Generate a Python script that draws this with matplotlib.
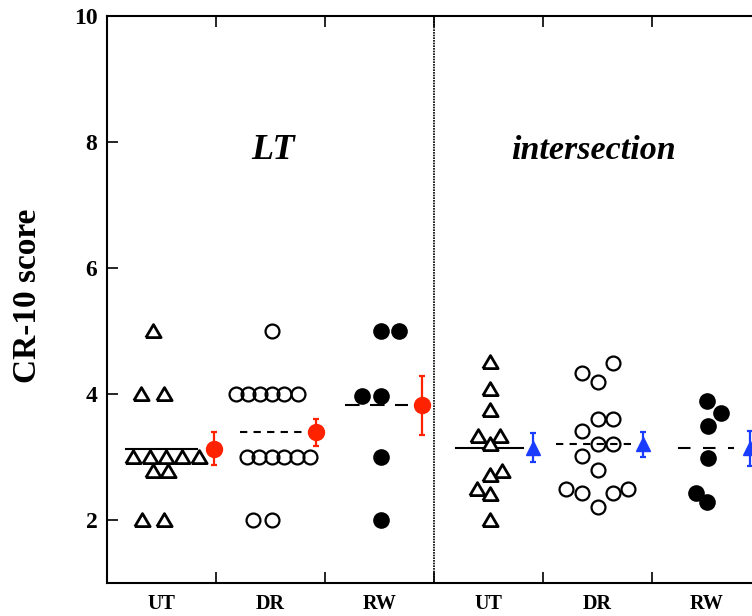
import numpy as np
import matplotlib as mpl
mpl.use("Agg")
import matplotlib.pyplot as plt

mpl.rcParams["font.family"] = "Liberation Serif"
mpl.rcParams["font.weight"] = "bold"

# category labels (two panels)
categories = ["UT", "DR", "RW", "UT", "DR", "RW"]
panels = ["LT", "intersection"]

# individual scores
lt_ut = [5, 4, 4, 3, 3, 3, 3, 3, 2.78, 2.78, 2, 2]
lt_dr = [5, 4, 4, 4, 4, 4, 4, 3, 3, 3, 3, 3, 3, 2, 2]
lt_rw = [5, 5, 3.97, 3.97, 3, 2]
in_ut = [4.51, 4.08, 3.74, 3.33, 3.33, 3.20, 2.78, 2.72, 2.49, 2.42, 2.0]
in_dr = [2.50, 4.34, 3.41, 3.02, 2.43, 4.19, 3.61, 3.20, 2.80, 2.21,
         4.50, 3.61, 3.20, 2.43, 2.50]
in_rw = [3.89, 3.70, 3.50, 2.99, 2.43, 2.29]

# group means and error (SEM)
lt_mean = [3.13, 3.39, 3.82]
lt_err = [0.26, 0.21, 0.47]
in_mean = [3.15, 3.20, 3.14]
in_err = [0.23, 0.20, 0.28]

# horizontal scatter offsets (layout only)
off_lt_ut = [-0.08, -0.19, 0.02, -0.26, -0.11, 0.04, 0.19, 0.34, -0.08, 0.06, -0.18, 0.02]
off_lt_dr = [0.01, -0.32, -0.21, -0.10, 0.01, 0.12, 0.25, -0.22, -0.11, 0.01, 0.12, 0.24, 0.36, -0.16, 0.01]
off_lt_rw = [0.01, 0.18, -0.16, 0.01, 0.01, 0.01]
off_in_ut = [0.01, 0.01, 0.01, -0.10, 0.11, 0.01, 0.12, 0.01, -0.11, 0.01, 0.01]
off_in_dr = [-0.29, -0.14, -0.14, -0.14, -0.14, 0.0, 0.0, 0.0, 0.0, 0.0,
             0.14, 0.14, 0.14, 0.14, 0.28]
off_in_rw = [0.0, 0.13, 0.01, 0.01, -0.10, 0.0]
off_mean_lt = [0.98, 0.92, 0.89]
off_mean_in = [0.905, 0.92, 0.90]

RED = "#ff2200"
BLUE = "#1a3cff"

fig = plt.figure(figsize=(7.52, 6.16), dpi=100)
ax = fig.add_axes([107 / 752, 33 / 616, 654 / 752, 567 / 616])

tri = [(-1, -0.8), (1, -0.8), (0, 0.9), (-1, -0.8)]

groups = [
    (lt_ut, off_lt_ut, dict(marker=tri, ms=11, mfc="white", mec="black", mew=2.0)),
    (lt_dr, off_lt_dr, dict(marker="o", ms=10, mfc="none", mec="black", mew=1.6)),
    (lt_rw, off_lt_rw, dict(marker="o", ms=12, mfc="black", mec="black", mew=0)),
    (in_ut, off_in_ut, dict(marker=tri, ms=11, mfc="white", mec="black", mew=2.0)),
    (in_dr, off_in_dr, dict(marker="o", ms=10, mfc="none", mec="black", mew=1.6)),
    (in_rw, off_in_rw, dict(marker="o", ms=12, mfc="black", mec="black", mew=0)),
]
for i, (vals, offs, style) in enumerate(groups):
    x = i + 0.5 + np.array(offs)
    ax.plot(x, vals, ls="none", zorder=3, **style)

# mean lines
line_styles = ["-", (0, (3.5, 3)), (0, (7, 5)), "-", (0, (3.5, 3)), (0, (6, 6))]
line_span = [(0.17, 0.83), (1.22, 1.79), (2.18, 2.76), (3.2, 3.82), (4.12, 4.82), (5.24, 5.75)]
means = lt_mean + in_mean
for i in range(6):
    ax.plot(line_span[i], [means[i]] * 2, color="black", lw=1.5, ls=line_styles[i], zorder=2)

# mean +/- error markers
ax.errorbar(np.arange(3) + np.array(off_mean_lt), lt_mean, yerr=lt_err, fmt="o", color=RED,
            ms=11.5, elinewidth=1.6, capsize=2.5, capthick=1.6, zorder=4)
ax.errorbar(np.arange(3, 6) + np.array(off_mean_in), in_mean, yerr=in_err, fmt="^", color=BLUE,
            ms=9.5, elinewidth=1.6, capsize=2.5, capthick=1.6, zorder=4)

# panel divider
ax.axvline(3, color="black", lw=1.2, ls=(0, (1, 0.6)), zorder=1)

ax.text(1.52, 7.87, panels[0], ha="center", va="center", fontsize=26, style="italic", weight="bold")
ax.text(4.46, 7.87, panels[1], ha="center", va="center", fontsize=24.5, style="italic", weight="bold")

ax.set_xlim(0, 6)
ax.set_ylim(1, 10)
ax.set_yticks([2, 4, 6, 8, 10])
ax.set_xticks([1, 2, 3, 4, 5])
ax.set_xticklabels([])
ax.set_xticks(np.arange(6) + 0.5, minor=True)
ax.set_xticklabels(categories, minor=True)
ax.tick_params(axis="x", which="major", direction="in", length=8, width=1.2, top=True)
ax.tick_params(axis="x", which="minor", length=0, pad=8, labelsize=14.5)
ax.tick_params(axis="y", direction="in", length=8, width=1.2, labelsize=17, pad=7)
for s in ax.spines.values():
    s.set_linewidth(1.5)

ax.set_ylabel("CR-10 score", fontsize=24, fontweight="bold")
ax.yaxis.set_label_coords(-0.098, 0.506)

fig.savefig("out.png", dpi=100)
